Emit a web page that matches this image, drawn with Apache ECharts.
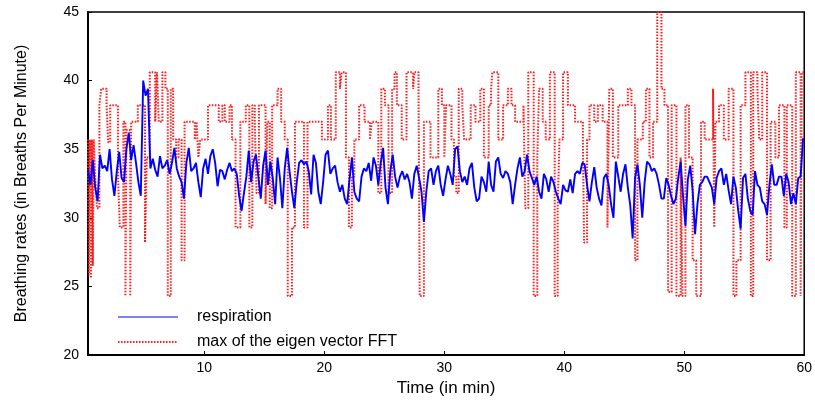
<!DOCTYPE html>
<html><head><meta charset="utf-8">
<script src="https://cdn.jsdelivr.net/npm/echarts@6/dist/echarts.min.js"></script>
<style>html,body{margin:0;padding:0;background:#fff}#c{width:815px;height:403px}</style>
</head><body><div id="c"></div>
<script>
const xTicks = [10, 20, 30, 40, 50, 60];
const yMin = 20, yMax = 45, yStep = 5;
const seriesNames = ['respiration', 'max of the eigen vector FFT'];

// respiration sampled every 0.2 min starting at 0.3 min
const respStart = 0.3, respStep = 0.2;
const respiration = [
33.5,32.4,34.2,32.2,31.2,34.6,33.6,33.8,33.4,35.0,32.8,31.6,33.4,34.8,32.9,32.6,35.0,36.2,34.2,35.3,
34.0,32.6,31.6,40.0,38.9,39.4,33.6,34.3,33.5,33.0,34.5,33.6,33.8,34.2,33.2,34.0,35.1,33.6,33.0,32.6,
31.4,34.0,35.1,33.4,33.6,34.0,32.6,31.5,33.6,34.3,33.2,34.5,35.0,
34.0,32.3,33.5,33.4,32.8,33.5,34.0,33.4,33.6,33.2,31.6,30.5,31.8,33.0,34.9,32.6,34.1,34.6,33.0,31.4,
33.8,34.9,32.4,34.1,32.9,31.0,34.4,32.9,30.7,33.6,35.1,33.4,31.9,30.7,32.6,34.0,34.2,33.9,34.1,33.4,
31.7,34.6,34.0,31.9,31.0,32.6,34.6,34.9,33.2,33.6,
33.8,32.6,31.9,32.4,31.4,31.0,32.8,34.4,31.9,31.4,31.2,33.0,33.6,33.4,34.0,32.7,34.4,33.8,32.4,34.0,
35.1,32.2,31.0,33.4,34.6,33.0,32.2,33.0,33.4,32.8,33.2,32.6,31.4,33.2,33.8,32.9,31.9,29.7,31.9,33.4,
33.6,32.4,33.4,33.8,32.4,31.6,32.8,33.8,33.2,32.4,
35.0,35.2,33.4,32.6,33.0,32.4,33.6,34.0,32.2,31.2,31.4,33.0,32.6,31.9,34.1,32.4,31.9,34.1,34.4,33.2,
32.9,33.4,33.2,32.6,31.0,32.4,33.6,34.4,33.0,33.4,34.6,33.4,32.9,32.4,33.0,31.9,31.4,33.2,32.8,31.9,
33.0,32.6,31.9,31.4,31.0,32.4,32.0,31.9,32.8,31.8,
33.2,33.4,33.2,34.0,33.9,32.4,31.2,32.6,33.7,32.2,31.4,30.9,32.9,33.2,32.4,31.0,30.0,34.1,33.0,31.9,
33.2,33.9,32.2,30.9,28.5,32.9,33.9,32.4,30.0,32.6,34.1,33.9,33.4,33.6,33.2,32.4,31.4,31.4,32.9,32.4,
31.6,31.0,31.4,32.9,34.1,31.6,29.4,32.8,33.8,32.0,28.8,31.0,32.4,32.6,33.0,33.0,32.6,32.2,31.0,32.9,
33.4,33.6,32.4,33.2,32.0,31.0,33.0,32.2,30.5,29.2,32.9,33.2,31.4,30.5,30.2,33.4,32.4,32.2,31.2,31.0,
30.2,32.4,33.9,32.4,32.4,33.0,33.0,31.6,33.2,32.6,31.0,31.8,31.0,32.9,33.0,35.8
];

// eigen vector FFT maximum: [time where level starts, level]
const fftTimes = [
0.28,0.38,0.45,0.55,0.62,0.7,0.78,0.9,1.05,1.25,1.4,1.85,1.98,2.15,2.8,2.95,3.25,3.42,3.5,3.82,
3.9,4.45,5.05,5.2,5.45,5.9,6.05,6.2,6.5,6.75,6.95,7.2,7.4,7.65,7.85,8.1,8.35,9.2,9.35,9.5,
9.65,10.3,11.2,11.5,11.7,12.1,12.3,12.6,13.0,13.45,13.75,14.0,14.2,14.35,14.55,15.1,15.25,15.45,15.65,16.1,
16.4,16.7,16.95,17.3,17.55,18.3,18.6,19.8,20.3,20.55,20.95,21.3,21.45,21.8,22.05,22.3,22.5,22.9,23.35,23.8,
23.95,24.5,24.75,25.05,25.35,25.65,25.85,26.05,26.45,26.85,27.4,27.5,27.85,27.95,28.3,28.85,29.5,29.8,30.0,30.15,
30.6,30.8,31.0,31.2,31.5,31.65,32.2,32.6,33.0,33.3,33.7,33.9,34.0,34.5,34.9,35.3,35.6,35.9,36.6,36.75,
37.0,37.45,37.75,37.9,38.2,38.45,38.8,39.2,39.45,39.6,39.9,40.3,40.9,41.55,41.65,41.9,42.1,42.5,42.8,43.2,
43.6,43.75,44.05,44.5,45.3,45.6,45.9,46.1,46.55,46.8,47.1,47.4,47.75,48.1,48.35,48.65,48.95,49.35,49.7,49.85,
50.1,50.4,50.7,51.0,51.4,51.7,52.4,52.5,52.6,52.9,53.3,53.7,54.1,54.35,54.7,55.1,55.55,55.75,56.1,56.25,
56.5,56.9,57.2,57.6,57.9,58.35,58.55,59.0,59.3,59.7,59.8,60.0
];
const fftLevels = [
35.7,25.8,35.7,25.6,35.7,26.5,35.7,33.0,30.7,38.2,39.4,38.2,35.5,38.2,33.0,29.3,37.0,24.3,36.4,24.3,
37.0,38.2,28.2,34.4,40.6,37.0,40.6,37.0,40.6,39.4,24.3,39.4,35.7,34.4,35.7,26.9,37.0,35.7,37.0,34.4,
35.7,38.2,37.0,38.2,37.0,38.2,35.7,29.3,37.0,38.2,29.3,38.2,37.0,31.8,38.2,31.0,37.0,30.7,38.2,39.4,
37.0,35.7,24.3,29.3,37.0,29.3,37.0,35.7,38.2,35.7,40.6,39.4,40.6,34.4,29.3,33.0,35.7,38.2,37.0,35.7,
37.0,31.8,39.4,38.2,31.8,39.4,40.6,38.2,35.7,40.6,39.4,40.6,39.4,24.3,37.0,34.4,39.4,38.2,34.4,38.2,
35.7,33.0,31.8,39.4,38.2,35.7,38.2,37.0,39.4,34.4,38.2,39.4,40.6,35.7,38.2,39.4,38.2,37.0,38.2,30.7,
40.6,24.3,34.4,39.4,37.0,35.7,40.6,24.3,30.7,35.7,40.6,38.2,37.0,35.7,28.2,35.7,38.2,37.0,38.2,37.0,
29.3,39.4,34.4,38.2,39.4,38.2,26.9,35.7,37.0,39.4,34.4,37.0,45.0,39.4,38.2,24.6,38.2,24.3,34.4,24.3,
38.2,34.4,26.9,24.3,37.0,35.7,39.4,29.3,37.0,38.2,35.7,39.4,24.3,26.9,38.2,40.6,24.3,40.6,39.4,35.7,
40.6,26.9,37.0,34.4,38.2,29.3,38.2,24.3,40.6,24.3,40.6,40.6
];

const respData = respiration.map((v, i) => [+(respStart + i * respStep).toFixed(2), v]);
const fftData = fftTimes.map((t, i) => [t, fftLevels[i]]);

const FONT = '"Liberation Sans", Arial, sans-serif';
const chart = echarts.init(document.getElementById('c'), null, {renderer: 'canvas'});
chart.setOption({
  animation: false,
  backgroundColor: '#fff',
  grid: {left: 88, right: 8, top: 12, bottom: 48, show: true, borderColor: '#000', borderWidth: 1.5, backgroundColor: 'transparent'},
  legend: {
    orient: 'vertical', left: 112, top: 304, itemWidth: 60, itemHeight: 12, itemGap: 9,
    itemStyle: {opacity: 0},
    textStyle: {fontFamily: FONT, fontSize: 16, color: '#000', padding: [0, 0, 0, 14]},
    data: [{name: seriesNames[0], lineStyle: {width: 1}}, {name: seriesNames[1]}]
  },
  xAxis: {
    type: 'value', min: 0.3, max: 60,
    name: 'Time (in min)', nameLocation: 'middle', nameGap: 22,
    nameTextStyle: {fontFamily: FONT, fontSize: 17, color: '#000'},
    axisLine: {show: true, lineStyle: {color: '#000', width: 2}},
    axisTick: {show: true, inside: true, length: 4, lineStyle: {color: '#000'}, customValues: xTicks},
    axisLabel: {fontFamily: FONT, fontSize: 14, color: '#000', margin: 6, customValues: xTicks},
    splitLine: {show: false}
  },
  yAxis: {
    type: 'value', min: yMin, max: yMax, interval: yStep,
    name: 'Breathing rates (in Breaths Per Minute)', nameLocation: 'middle', nameGap: 58, nameRotate: 90,
    nameTextStyle: {fontFamily: FONT, fontSize: 16, color: '#000'},
    axisLine: {show: true, lineStyle: {color: '#000', width: 2}},
    axisTick: {show: true, inside: true, length: 4, lineStyle: {color: '#000'}},
    axisLabel: {fontFamily: FONT, fontSize: 14, color: '#000', margin: 9},
    splitLine: {show: false}
  },
  series: [
    {
      name: seriesNames[1], type: 'line', step: 'end', data: fftData, symbol: 'none',
      lineStyle: {color: '#ff1a1a', width: 2, type: [1.5, 1.5]}, itemStyle: {color: '#ff1a1a'}, z: 2
    },
    {
      name: seriesNames[0], type: 'line', data: respData, symbol: 'none',
      lineStyle: {color: '#0000ff', width: 1.9}, itemStyle: {color: '#0000ff'}, z: 3
    }
  ]
});
</script>
</body></html>
